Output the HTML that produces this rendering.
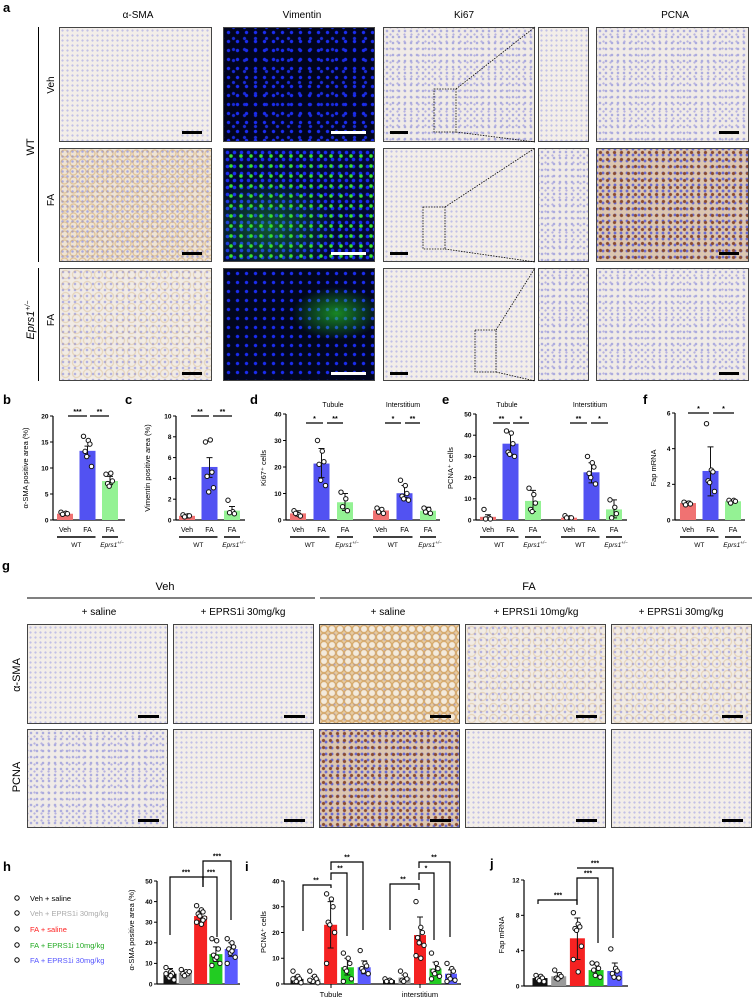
<!DOCTYPE html>
<html><head><meta charset="utf-8">
<style>
html,body{margin:0;padding:0;background:#fff;}
#wrap{position:relative;width:753px;height:1000px;overflow:hidden;font-family:"Liberation Sans",sans-serif;}
.img{position:absolute;box-sizing:border-box;border:1px solid #444;}
.ihc{background:radial-gradient(circle,#a9a9dd 0.9px,transparent 1.6px) 0 0/6px 6px,radial-gradient(circle,#b8b3e0 0.8px,transparent 1.4px) 3px 3px/7px 7px,#f0ebe7;}
.ihc-lt{background:radial-gradient(circle,#c2c0e6 0.8px,transparent 1.4px) 0 0/5px 5px,#f3eee9;}
.brown{background:radial-gradient(circle,transparent 2.5px,rgba(205,155,80,.55) 3.5px,transparent 4.5px) 0 0/9px 9px,radial-gradient(circle,#a9a9dd 0.9px,transparent 1.6px) 0 0/5px 5px,#efe3d3;}
.brown-heavy{background:radial-gradient(circle,#f3eadc 2.5px,rgba(200,140,60,.7) 3.6px,transparent 4.6px) 0 0/8px 8px,radial-gradient(circle,#a9a9dd 0.8px,transparent 1.4px) 2px 2px/5px 5px,#e6caa0;}
.brown-lt{background:radial-gradient(circle,transparent 3px,rgba(205,160,90,.35) 4px,transparent 5px) 0 0/11px 11px,radial-gradient(circle,#b0aee0 0.9px,transparent 1.6px) 0 0/6px 6px,#f1ebe4;}
.pcna-fa{background:radial-gradient(circle,#8a4a30 1.2px,transparent 2px) 0 0/7px 7px,radial-gradient(circle,#6a6ad0 1.1px,transparent 1.8px) 3px 3px/6px 6px,#dcc6b0;}
.vim{background:radial-gradient(circle,#1a2cf0 1.3px,transparent 2.1px) 0 0/9px 9px,radial-gradient(circle,#1a2cd8 1.2px,transparent 2px) 4px 5px/11px 11px,#01041e;}
.vim-fa{background:radial-gradient(ellipse at 30% 70%,rgba(40,220,40,.35) 0,transparent 45%),radial-gradient(circle,#38e030 1.3px,transparent 2.3px) 2px 2px/10px 10px,radial-gradient(circle,#1a2cf0 1.4px,transparent 2.2px) 0 0/7px 7px,#020a30;}
.vim-eprs{background:radial-gradient(ellipse at 75% 40%,rgba(40,220,40,.6) 0,transparent 28%),radial-gradient(circle,#1a2cf0 1.3px,transparent 2.1px) 0 0/9px 9px,#01061e;}
</style></head>
<body>
<div id="wrap">
<div class="img ihc-lt" style="left:59px;top:27px;width:153px;height:115px"></div>
<div class="img vim" style="left:223px;top:27px;width:152px;height:115px"></div>
<div class="img ihc" style="left:383px;top:27px;width:152px;height:115px"></div>
<div class="img ihc-lt" style="left:538px;top:27px;width:51px;height:115px"></div>
<div class="img ihc" style="left:596px;top:27px;width:153px;height:115px"></div>

<div class="img brown" style="left:59px;top:148px;width:153px;height:114px"></div>
<div class="img vim-fa" style="left:223px;top:148px;width:152px;height:114px"></div>
<div class="img ihc-lt" style="left:383px;top:148px;width:152px;height:114px"></div>
<div class="img ihc" style="left:538px;top:148px;width:51px;height:114px"></div>
<div class="img pcna-fa" style="left:596px;top:148px;width:153px;height:114px"></div>

<div class="img brown-lt" style="left:59px;top:268px;width:153px;height:113px"></div>
<div class="img vim-eprs" style="left:223px;top:268px;width:152px;height:113px"></div>
<div class="img ihc-lt" style="left:383px;top:268px;width:152px;height:113px"></div>
<div class="img ihc" style="left:538px;top:268px;width:51px;height:113px"></div>
<div class="img ihc" style="left:596px;top:268px;width:153px;height:113px"></div>

<div class="img ihc-lt" style="left:27px;top:624px;width:141px;height:100px"></div>
<div class="img ihc-lt" style="left:173px;top:624px;width:141px;height:100px"></div>
<div class="img brown-heavy" style="left:319px;top:624px;width:141px;height:100px"></div>
<div class="img brown-lt" style="left:465px;top:624px;width:141px;height:100px"></div>
<div class="img brown-lt" style="left:611px;top:624px;width:141px;height:100px"></div>
<div class="img ihc" style="left:27px;top:729px;width:141px;height:99px"></div>
<div class="img ihc-lt" style="left:173px;top:729px;width:141px;height:99px"></div>
<div class="img pcna-fa" style="left:319px;top:729px;width:141px;height:99px"></div>
<div class="img ihc-lt" style="left:465px;top:729px;width:141px;height:99px"></div>
<div class="img ihc-lt" style="left:611px;top:729px;width:141px;height:99px"></div>

<svg id="fig" width="753" height="1000" style="position:absolute;left:0;top:0" font-family="Liberation Sans, sans-serif">
<g font-weight="bold" font-size="13" fill="#000">
<text x="3" y="12">a</text>
<text x="3" y="404">b</text>
<text x="125" y="404">c</text>
<text x="250" y="404">d</text>
<text x="442" y="404">e</text>
<text x="643" y="404">f</text>
<text x="2" y="570">g</text>
<text x="3" y="871">h</text>
<text x="245" y="871">i</text>
<text x="490" y="868">j</text>
</g>
<g font-size="10" text-anchor="middle">
<text x="138" y="18">α-SMA</text>
<text x="302" y="18">Vimentin</text>
<text x="464" y="18">Ki67</text>
<text x="675" y="18">PCNA</text>
<text transform="translate(34,147) rotate(-90)" font-size="11">WT</text>
<text transform="translate(54,85) rotate(-90)">Veh</text>
<text transform="translate(54,200) rotate(-90)">FA</text>
<text transform="translate(34,320) rotate(-90)" font-size="11" font-style="italic">Eprs1<tspan font-size="7" dy="-4">+/−</tspan></text>
<text transform="translate(54,320) rotate(-90)">FA</text>
</g>
<line x1="38.5" y1="27" x2="38.5" y2="262" stroke="#000" stroke-width="1"/>
<line x1="38.5" y1="268" x2="38.5" y2="381" stroke="#000" stroke-width="1"/>
<g fill="none" stroke="#000" stroke-width="0.8" stroke-dasharray="1.5,1.2">
<rect x="434" y="89" width="22" height="43"/><line x1="456" y1="89" x2="535" y2="27"/><line x1="456" y1="132" x2="535" y2="142"/>
<rect x="423" y="207" width="22" height="42"/><line x1="445" y1="207" x2="535" y2="148"/><line x1="445" y1="249" x2="535" y2="262"/>
<rect x="475" y="330" width="21" height="42"/><line x1="496" y1="330" x2="535" y2="268"/><line x1="496" y1="372" x2="535" y2="381"/>
</g>
<g>
<rect x="182" y="131" width="20" height="3" fill="#000"/><rect x="331" y="131" width="35" height="3" fill="#fff"/><rect x="390" y="131" width="18" height="3" fill="#000"/><rect x="719" y="131" width="20" height="3" fill="#000"/>
<rect x="182" y="252" width="20" height="3" fill="#000"/><rect x="331" y="252" width="35" height="3" fill="#fff"/><rect x="390" y="252" width="18" height="3" fill="#000"/><rect x="719" y="252" width="20" height="3" fill="#000"/>
<rect x="182" y="372" width="20" height="3" fill="#000"/><rect x="331" y="372" width="35" height="3" fill="#fff"/><rect x="390" y="372" width="18" height="3" fill="#000"/><rect x="719" y="372" width="20" height="3" fill="#000"/>
<rect x="138" y="715" width="21" height="3" fill="#000"/><rect x="284" y="715" width="21" height="3" fill="#000"/><rect x="430" y="715" width="21" height="3" fill="#000"/><rect x="576" y="715" width="21" height="3" fill="#000"/><rect x="722" y="715" width="21" height="3" fill="#000"/>
<rect x="138" y="819" width="21" height="3" fill="#000"/><rect x="284" y="819" width="21" height="3" fill="#000"/><rect x="430" y="819" width="21" height="3" fill="#000"/><rect x="576" y="819" width="21" height="3" fill="#000"/><rect x="722" y="819" width="21" height="3" fill="#000"/>
</g>
<g font-size="10" text-anchor="middle">
<text x="165" y="590" font-size="11">Veh</text>
<text x="529" y="590" font-size="11">FA</text>
<line x1="27" y1="598" x2="315" y2="598" stroke="#000"/>
<line x1="320" y1="598" x2="752" y2="598" stroke="#000"/>
<text x="99" y="615">+ saline</text>
<text x="243" y="615">+ EPRS1i 30mg/kg</text>
<text x="388" y="615">+ saline</text>
<text x="536" y="615">+ EPRS1i 10mg/kg</text>
<text x="681" y="615">+ EPRS1i 30mg/kg</text>
<text transform="translate(20,675) rotate(-90)" font-size="11">α-SMA</text>
<text transform="translate(20,777) rotate(-90)" font-size="11">PCNA</text>
</g>
<g font-size="7.5">
<circle cx="17" cy="898" r="2.2" fill="#fff" stroke="#000" stroke-width="1"/><text x="30" y="901" fill="#000">Veh + saline</text>
<circle cx="17" cy="913" r="2.2" fill="#fff" stroke="#000" stroke-width="1"/><text x="30" y="916" fill="#aaa">Veh + EPRS1i 30mg/kg</text>
<circle cx="17" cy="929" r="2.2" fill="#fff" stroke="#000" stroke-width="1"/><text x="30" y="932" fill="#f22">FA + saline</text>
<circle cx="17" cy="945" r="2.2" fill="#fff" stroke="#000" stroke-width="1"/><text x="30" y="948" fill="#22aa22">FA + EPRS1i 10mg/kg</text>
<circle cx="17" cy="960" r="2.2" fill="#fff" stroke="#000" stroke-width="1"/><text x="30" y="963" fill="#5555ff">FA + EPRS1i 30mg/kg</text>
</g>
<g id="charts"></g>
</svg>
</div>
<script>
const bCategories=['Veh','FA','FA'];
const bMeans=[1.2,13.3,7.5];
const bErrLow=[1.0,12.3,6.8];
const bErrHigh=[1.4,14.2,8.4];
const bPoints=[[1.5,1.3,1.2,1.1],[16.1,15.3,14.6,13.2,12.2,10.3],[8.8,9.0,7.5,7.0,6.5]];
const bTicks=[0,5,10,15,20];

const cMeans=[0.4,5.1,0.9];
const cErrLow=[0.3,4.1,0.6];
const cErrHigh=[0.5,6.0,1.3];
const cPoints=[[0.5,0.4,0.4,0.3],[7.5,7.7,4.6,4.2,2.7,3.1],[1.9,0.8,0.6,0.7]];
const cTicks=[0,2,4,6,8,10];

const dTubMeans=[2.5,21.3,6.7];
const dTubErrLow=[1.5,16,3.6];
const dTubErrHigh=[3.5,27,10];
const dTubPoints=[[3.5,2,1.5,2.5],[30,26,22,21,15,13],[10.5,8,3.5,5]];
const dIntMeans=[3.6,10.1,3.5];
const dIntErrLow=[2.8,8.5,2.2];
const dIntErrHigh=[4.5,13,4.8];
const dIntPoints=[[4.5,4,2.5,3],[15,13,10,9,8,7.5],[4.5,4,2.5,3]];
const dTicks=[0,10,20,30,40];

const eTubMeans=[1.5,36,9];
const eTubErrLow=[0.5,31,4];
const eTubErrHigh=[2.5,41.5,14];
const eTubPoints=[[5,1,0.5,0.5],[42,41,36,32,31,30],[15,12,8,5,4]];
const eIntMeans=[1.1,22.5,5];
const eIntErrLow=[0.8,17.5,1];
const eIntErrHigh=[1.5,27,9.5];
const eIntPoints=[[2,1,1,1],[30,27,25,22,20,17],[9.5,6,3,1]];
const eTicks=[0,10,20,30,40,50];

const fMeans=[0.95,2.75,1.05];
const fErrLow=[0.85,1.35,0.95];
const fErrHigh=[1.05,4.1,1.15];
const fPoints=[[1,0.95,0.9,0.85],[5.4,2.8,2.7,2.2,2.1,1.6],[1.1,1.1,1.05,0.95]];
const fTicks=[0,2,4,6];

const hGroups=['Veh + saline','Veh + EPRS1i 30mg/kg','FA + saline','FA + EPRS1i 10mg/kg','FA + EPRS1i 30mg/kg'];
const hMeans=[5,5.5,33,14.5,17];
const hErrLow=[3,4.5,30.5,11,13.5];
const hErrHigh=[7.5,6.5,35.5,18,20];
const hPoints=[[8,6,5,4,3,2,5,4],[7,6,5,5,4,6],[38,36,35,34,33,32,30,29,31],[22,21,17,14,12,10,9,13],[22,20,18,17,15,13,10,16]];
const hTicks=[0,10,20,30,40,50];

const iTubMeans=[2,2,23,6.5,6.5];
const iTubErrLow=[1,1,14,3.5,4];
const iTubErrHigh=[3,3,32,10,9];
const iTubPoints=[[5,3,2,1,1,0.5,2],[5,3,2,1,1,0.5,1.5],[35,33,30,24,23,20,8],[12,10,8,6,5,2,1],[13,8,7,6,5,4]];
const iIntMeans=[1.5,2.5,19,6,4];
const iIntErrLow=[1,1.5,15.5,3.5,2];
const iIntErrHigh=[2,3.5,26,8.5,5.5];
const iIntPoints=[[2,1.5,1,1],[5,3.5,2,1.5,1],[32,22,20,18,16,15,11,10],[12,8,6,5,4,3,2],[8,6,5,3,2,1.5,1]];
const iTicks=[0,10,20,30,40];

const jMeans=[0.9,1.1,5.4,1.8,1.7];
const jErrLow=[0.6,0.8,3,1.2,0.9];
const jErrHigh=[1.2,1.5,7.7,2.5,2.6];
const jPoints=[[1.2,1.1,0.9,0.8,0.6,0.5],[1.8,1.3,1.1,0.9,0.8],[8.3,7,6.7,6.5,6.3,4.5,3,1.6],[2.6,2.5,2,1.8,1.2,1],[4.2,2,1.7,1.4,1,0.9]];
const jTicks=[0,4,8,12];

const NS='http://www.w3.org/2000/svg';
const root=document.getElementById('charts');
function mk(tag,attrs,parent){const e=document.createElementNS(NS,tag);for(const k in attrs)e.setAttribute(k,attrs[k]);(parent||root).appendChild(e);return e;}
const colors3=['#f07272','#5252f2','#94f294'];
const colors5=['#111111','#9a9a9a','#f52222','#22cc22','#5a5aff'];

function yScale(y0,yTopPx,max){return v=>y0-v*(y0-yTopPx)/max;}
function drawAxis(name,ax,y0,yTopPx,max,ticks,xEnd){
  const s=yScale(y0,yTopPx,max);
  const g=mk('g',{});
  
  
  mk('line',{x1:ax,y1:s(max),x2:ax,y2:y0,stroke:'#000','stroke-width':1.2},g);
  mk('line',{x1:ax,y1:y0,x2:xEnd,y2:y0,stroke:'#000','stroke-width':1.2},g);
  ticks.forEach(t=>{
    mk('line',{x1:ax-3,y1:s(t),x2:ax,y2:s(t),stroke:'#000','stroke-width':1},g);
    const tx=mk('text',{x:ax-4.5,y:s(t)+2.3,'font-size':6.5,'font-weight':'bold','text-anchor':'end'},g);
    tx.textContent=t;
  });
  return s;
}
function drawBars(name,s,y0,x0,step,bw,means,lo,hi,pts,cols){
  means.forEach((m,i)=>{
    const cx=x0+i*step;
    const r=mk('rect',{x:cx-bw/2,y:s(m),width:bw,height:y0-s(m),fill:cols[i]});
    
    
    const e=mk('path',{d:`M${cx},${s(lo[i])}V${s(hi[i])}M${cx-3},${s(hi[i])}H${cx+3}M${cx-3},${s(lo[i])}H${cx+3}`,stroke:'#111','stroke-width':1,fill:'none'});
    
    
    pts[i].forEach((p,k)=>{
      const off=((k%3)-1)*3.2+(k%2?0.8:-0.8);
      const c=mk('circle',{cx:cx+off,cy:s(p),r:2.2,fill:'#fff',stroke:'#111','stroke-width':1});
      
      
    });
  });
}
function txt(x,y,t,size,extra){const e=mk('text',Object.assign({x:x,y:y,'font-size':size,'text-anchor':'middle'},extra||{}));e.textContent=t;return e;}
function yTitle(x,y,t,name){const e=txt(x,y,t,7.5,{transform:`rotate(-90 ${x} ${y})`});return e;}
function groupLabels(x0,step,cats,y){cats.forEach((c,i)=>{const e=txt(x0+i*step,y,c,7);});}
function wtLabels(x0,step){
  mk('line',{x1:x0-8,y1:537,x2:x0+step+8,y2:537,stroke:'#000','stroke-width':1.5});
  mk('line',{x1:x0+2*step-8,y1:537,x2:x0+2*step+8,y2:537,stroke:'#000','stroke-width':1.5});
  const a=txt(x0+step/2,547,'WT',6.5);
  
  
  const b=txt(x0+2*step+2,547,'',6.5,{'font-style':'italic'});
  
  
  b.innerHTML='Eprs1<tspan font-size="4.5" dy="-3">+/−</tspan>';
}
function sig(x1,x2,y,label){mk('line',{x1:x1,y1:y,x2:x2,y2:y,stroke:'#000','stroke-width':1.3});const e=txt((x1+x2)/2,y-2,label,7,{'font-weight':'bold'});}
function bracket(xa,ya,xb,yb,yt,label,lx){mk('path',{d:`M${xa},${ya}V${yt}H${xb}V${yb}`,fill:'none',stroke:'#000','stroke-width':1.2});const e=txt(lx,yt-2.5,label,7,{'font-weight':'bold'});}

let s=drawAxis('chart-b',53,520,416,20,bTicks,125);
drawBars('chart-b',s,520,65,22.5,16,bMeans,bErrLow,bErrHigh,bPoints,colors3);
groupLabels(65,22.5,bCategories,532);wtLabels(65,22.5);
yTitle(28,468,'α-SMA positive area (%)','y-axis-title-b');
sig(68,87,416,'***');sig(90,109,416,'**');

s=drawAxis('chart-c',176,520,416,10,cTicks,245);
drawBars('chart-c',s,520,187,22.5,16,cMeans,cErrLow,cErrHigh,cPoints,colors3);
groupLabels(187,22.5,bCategories,532);wtLabels(187,22.5);
yTitle(150,468,'Vimentin positive area (%)','y-axis-title-c');
sig(191,209,416,'**');sig(213,232,416,'**');

s=drawAxis('chart-d',286,520,414,40,dTicks,440);
drawBars('chart-d-tubule',s,520,298,23.5,16,dTubMeans,dTubErrLow,dTubErrHigh,dTubPoints,colors3);
drawBars('chart-d-interstitium',s,520,381,23.5,16,dIntMeans,dIntErrLow,dIntErrHigh,dIntPoints,colors3);
groupLabels(298,23.5,bCategories,532);wtLabels(298,23.5);
groupLabels(381,23.5,bCategories,532);wtLabels(381,23.5);
txt(333,407,'Tubule',7);txt(403,407,'Interstitium',7);
yTitle(266,468,'Ki67⁺ cells','y-axis-title-d');
sig(306,323,423,'*');sig(327,343,423,'**');sig(385,401,423,'*');sig(405,420,423,'**');

s=drawAxis('chart-e',476,520,414,50,eTicks,627);
drawBars('chart-e-tubule',s,520,488,22.5,16,eTubMeans,eTubErrLow,eTubErrHigh,eTubPoints,colors3);
drawBars('chart-e-interstitium',s,520,569,22.5,16,eIntMeans,eIntErrLow,eIntErrHigh,eIntPoints,colors3);
groupLabels(488,22.5,bCategories,532);wtLabels(488,22.5);
groupLabels(569,22.5,bCategories,532);wtLabels(569,22.5);
txt(507,407,'Tubule',7);txt(590,407,'Interstitium',7);
yTitle(453,468,'PCNA⁺ cells','y-axis-title-e');
sig(493,510,423,'**');sig(513,529,423,'*');sig(570,587,423,'**');sig(591,608,423,'*');

s=drawAxis('chart-f',675,520,413,6,fTicks,745);
drawBars('chart-f',s,520,688,22.5,16,fMeans,fErrLow,fErrHigh,fPoints,colors3);
groupLabels(688,22.5,bCategories,532);wtLabels(688,22.5);
yTitle(656,468,'Fap mRNA','y-axis-title-f');
sig(688,709,413,'*');sig(713,734,413,'*');

s=drawAxis('chart-h',157,984,881,50,hTicks,240);
drawBars('chart-h',s,984,170,15.3,13,hMeans,hErrLow,hErrHigh,hPoints,colors5);
yTitle(134,930,'α-SMA positive area (%)','y-axis-title-h');
bracket(170,935,203,887,877,'***',186);
bracket(203,887,217,937,877,'***',211);
bracket(203,880,231,920,861,'***',217);

s=drawAxis('chart-i',284,984,881,40,iTicks,461);
drawBars('chart-i-tubule',s,984,297,16.8,13,iTubMeans,iTubErrLow,iTubErrHigh,iTubPoints,colors5);
drawBars('chart-i-interstitium',s,984,389,15.5,12,iIntMeans,iIntErrLow,iIntErrHigh,iIntPoints,colors5);
mk('line',{x1:331,y1:984,x2:331,y2:988,stroke:'#000'});mk('line',{x1:420,y1:984,x2:420,y2:988,stroke:'#000'});
txt(331,997,'Tubule',7.5);txt(420,997,'interstitium',7.5);
yTitle(266,932,'PCNA⁺ cells','y-axis-title-i');
bracket(303,931,331,888,885,'**',316);
bracket(331,880,347,936,873,'**',340);
bracket(331,870,363,930,862,'**',347);
bracket(390,930,419,890,884,'**',403);
bracket(419,880,434,940,873,'*',426);
bracket(419,868,450,937,862,'**',434);

s=drawAxis('chart-j',524,986,880,12,jTicks,628);
drawBars('chart-j',s,986,540,18.7,15,jMeans,jErrLow,jErrHigh,jPoints,colors5);
yTitle(504,935,'Fap mRNA','y-axis-title-j');
bracket(538,904,577,904,900,'***',558);
bracket(577,905,598,943,878,'***',588);
bracket(577,868,613,938,868,'***',595);
</script>
</body></html>
